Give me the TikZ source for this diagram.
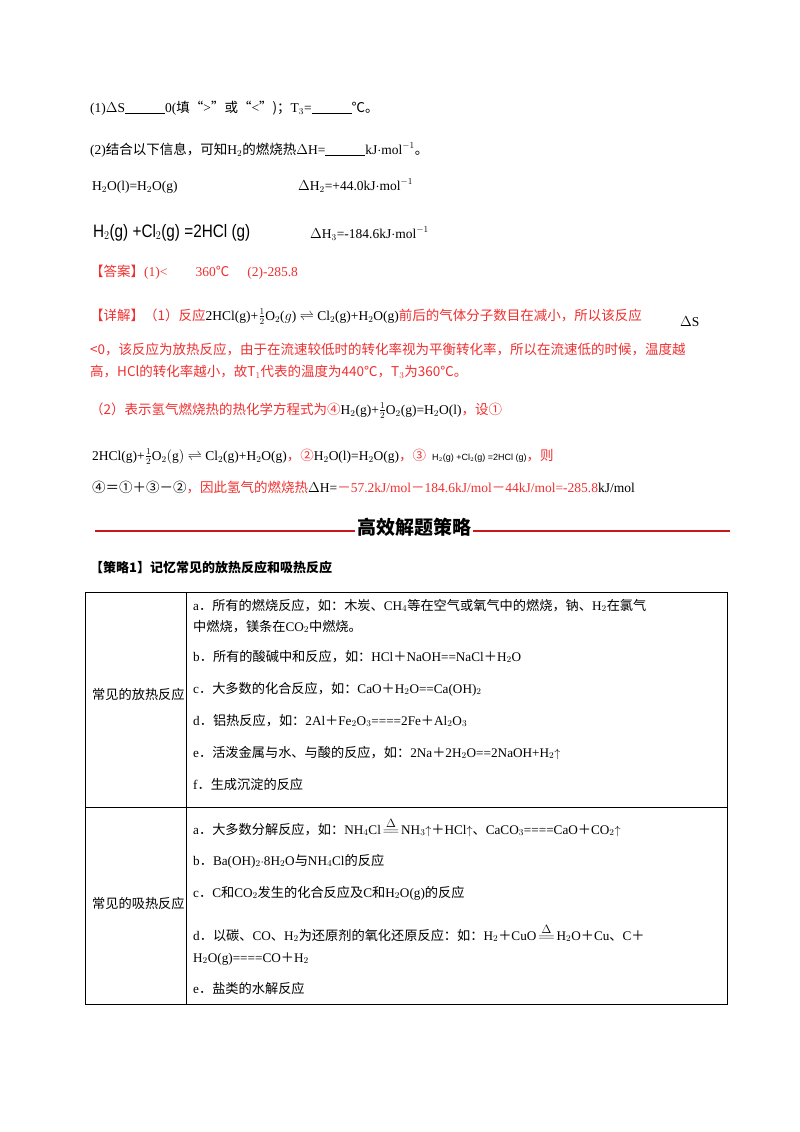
\documentclass[tikz,border=0pt]{standalone}
\usepackage{fontspec}
\setmainfont{Liberation Serif}
\setsansfont{Liberation Sans}
\newfontfamily\cjk{Noto Sans CJK SC}
\newcommand{\zh}[1]{{\cjk #1}}
\definecolor{ansred}{HTML}{F03030}
\definecolor{barred}{HTML}{C41A1A}
\begin{document}
\begin{tikzpicture}[x=1pt,y=-1pt,
  t/.style={anchor=base west,inner sep=0pt,font=\fontsize{13.5}{15}\selectfont},
  r/.style={t,text=ansred},
  cell/.style={t,font=\fontsize{13.2}{15}\selectfont}]
\useasboundingbox (0,0) rectangle (800,1132);
\fill[white] (0,0) rectangle (800,1132);
\node[t] (l1) at (90,112) {(1)$\Delta$S\underline{\hspace{40pt}}0(\zh{填“}>\zh{”或“}<\zh{”)；}T$_3$=\underline{\hspace{40pt}}\zh{℃。}};
\node[t] (l2) at (90,154) {(2)\zh{结合以下信息，可知}H$_2$\zh{的燃烧热}$\Delta$H=\underline{\hspace{40pt}}kJ$\cdot$mol$^{-1}$\zh{。}};
\node[t] (l3a) at (92,190) {H$_2$O(l)=H$_2$O(g)};
\node[t] (l3b) at (298,190) {$\Delta$H$_2$=+44.0kJ$\cdot$mol$^{-1}$};
\node[t,font=\sffamily\fontsize{18}{20}\selectfont,xscale=0.85,anchor=base west] (l4a) at (93,237) {H$_2$(g) +Cl$_2$(g) =2HCl (g)};
\node[t] (l4b) at (310,238) {$\Delta$H$_3$=-184.6kJ$\cdot$mol$^{-1}$};
\node[r] (ans) at (90,276) {\zh{【答案】}(1)<\hspace{28pt}360\zh{℃}\hspace{18pt}(2)-285.8};
\node[r] (x1) at (90,320) {\zh{【详解】（1）反应}\textcolor{black}{2HCl(g)+$\frac{1}{2}$O$_2$($g$) $\rightleftharpoons$ Cl$_2$(g)+H$_2$O(g)}\zh{前后的气体分子数目在减小，所以该反应}};
\node[t] (x1b) at (582,326) {};
\node[t] (x1c) at (581,326) {};
\node[t] (x1d) at (581,326) {};
\node[t] (ds) at (582,326) {};
\node[t] (x1e) at (582,326) {};
\node[t] (dS) at (581,326) {};
\node[t] (dSS) at (581,326) {};
\node[t] (dSx) at (680,326) {$\Delta$S};
\node[r] (x2) at (90,354) {\zh{<0，该反应为放热反应，由于在流速较低时的转化率视为平衡转化率，所以在流速低的时候，温度越}};
\node[r] (x3) at (90,376) {\zh{高，HCl的转化率越小，故T$_1$代表的温度为440℃，T$_3$为360℃。}};
\node[r] (y1) at (90,414) {\zh{（2）表示氢气燃烧热的热化学方程式为④}\textcolor{black}{H$_2$(g)+$\frac{1}{2}$O$_2$(g)=H$_2$O(l)}\zh{，设①}};
\node[r] (y2) at (92,460) {\textcolor{black}{2HCl(g)+$\frac{1}{2}$O$_2$$\bigl($g$\bigr)$ $\rightleftharpoons$ Cl$_2$(g)+H$_2$O(g)}\zh{，②}\textcolor{black}{H$_2$O(l)=H$_2$O(g)}\zh{，③}\hspace{6pt}\textcolor{black}{\sffamily\small H$_2$(g) +Cl$_2$(g) =2HCl (g)}\zh{，则}};
\node[r] (y3) at (92,492) {\textcolor{black}{\zh{④＝①＋③－②}}\zh{，因此氢气的燃烧热}\textcolor{black}{$\Delta$H=}\zh{－}57.2kJ/mol\zh{－}184.6kJ/mol\zh{－}44kJ/mol=-285.8\textcolor{black}{kJ/mol}};
\node[anchor=center,inner sep=2pt,font=\cjk\bfseries\fontsize{19}{21}\selectfont] (hd) at (414,527) {高效解题策略};
\draw[barred,line width=2.6pt] (95,531) -- (hd.west|-0,531);
\draw[barred,line width=2.6pt] (hd.east|-0,531) -- (730,531);
\node[t,font=\cjk\bfseries\fontsize{13}{15}\selectfont] (s1) at (90,572) {【策略1】记忆常见的放热反应和吸热反应};
\draw[line width=0.8pt] (85,592) rectangle (727,1004);
\draw[line width=0.8pt] (186,592) -- (186,1004);
\draw[line width=0.8pt] (85,807) -- (727,807);
\node[cell] (c1) at (92,699) {\zh{常见的放热反应}};
\node[cell] (c2) at (92,908) {\zh{常见的吸热反应}};
\node[cell] (a1) at (193,610) {a\zh{．所有的燃烧反应，如：木炭、}CH$_4$\zh{等在空气或氧气中的燃烧，钠、}H$_2$\zh{在氯气}};
\node[cell] (a2) at (193,631) {\zh{中燃烧，镁条在}CO$_2$\zh{中燃烧。}};
\node[cell] (b1) at (193,661) {b\zh{．所有的酸碱中和反应，如：}HCl\zh{＋}NaOH==NaCl\zh{＋}H$_2$O};
\node[cell] (cc) at (193,693) {c\zh{．大多数的化合反应，如：}CaO\zh{＋}H$_2$O==Ca(OH)$_2$};
\node[cell] (d1) at (193,725) {d\zh{．铝热反应，如：}2Al\zh{＋}Fe$_2$O$_3$====2Fe\zh{＋}Al$_2$O$_3$};
\node[cell] (e1) at (193,757) {e\zh{．活泼金属与水、与酸的反应，如：}2Na\zh{＋}2H$_2$O==2NaOH+H$_2$$\uparrow$};
\node[cell] (f1) at (193,789) {f\zh{．生成沉淀的反应}};
\node[cell] (a3) at (193,834) {a\zh{．大多数分解反应，如：}NH$_4$Cl$\,\stackrel{\textstyle\Delta}{=\!=}\,$NH$_3$$\uparrow$\zh{＋}HCl$\uparrow$\zh{、}CaCO$_3$====CaO\zh{＋}CO$_2$$\uparrow$};
\node[cell] (b2) at (193,865) {b\zh{．}Ba(OH)$_2$$\cdot$8H$_2$O\zh{与}NH$_4$Cl\zh{的反应}};
\node[cell] (c3) at (193,897) {c\zh{．}C\zh{和}CO$_2$\zh{发生的化合反应及}C\zh{和}H$_2$O(g)\zh{的反应}};
\node[cell] (d2) at (193,940) {d\zh{．以碳、}CO\zh{、}H$_2$\zh{为还原剂的氧化还原反应：如：}H$_2$\zh{＋}CuO$\,\stackrel{\textstyle\Delta}{=\!=}\,$H$_2$O\zh{＋}Cu\zh{、}C\zh{＋}};
\node[cell] (d3) at (193,962) {H$_2$O(g)====CO\zh{＋}H$_2$};
\node[cell] (e2) at (193,993) {e\zh{．盐类的水解反应}};
\end{tikzpicture}
\end{document}
